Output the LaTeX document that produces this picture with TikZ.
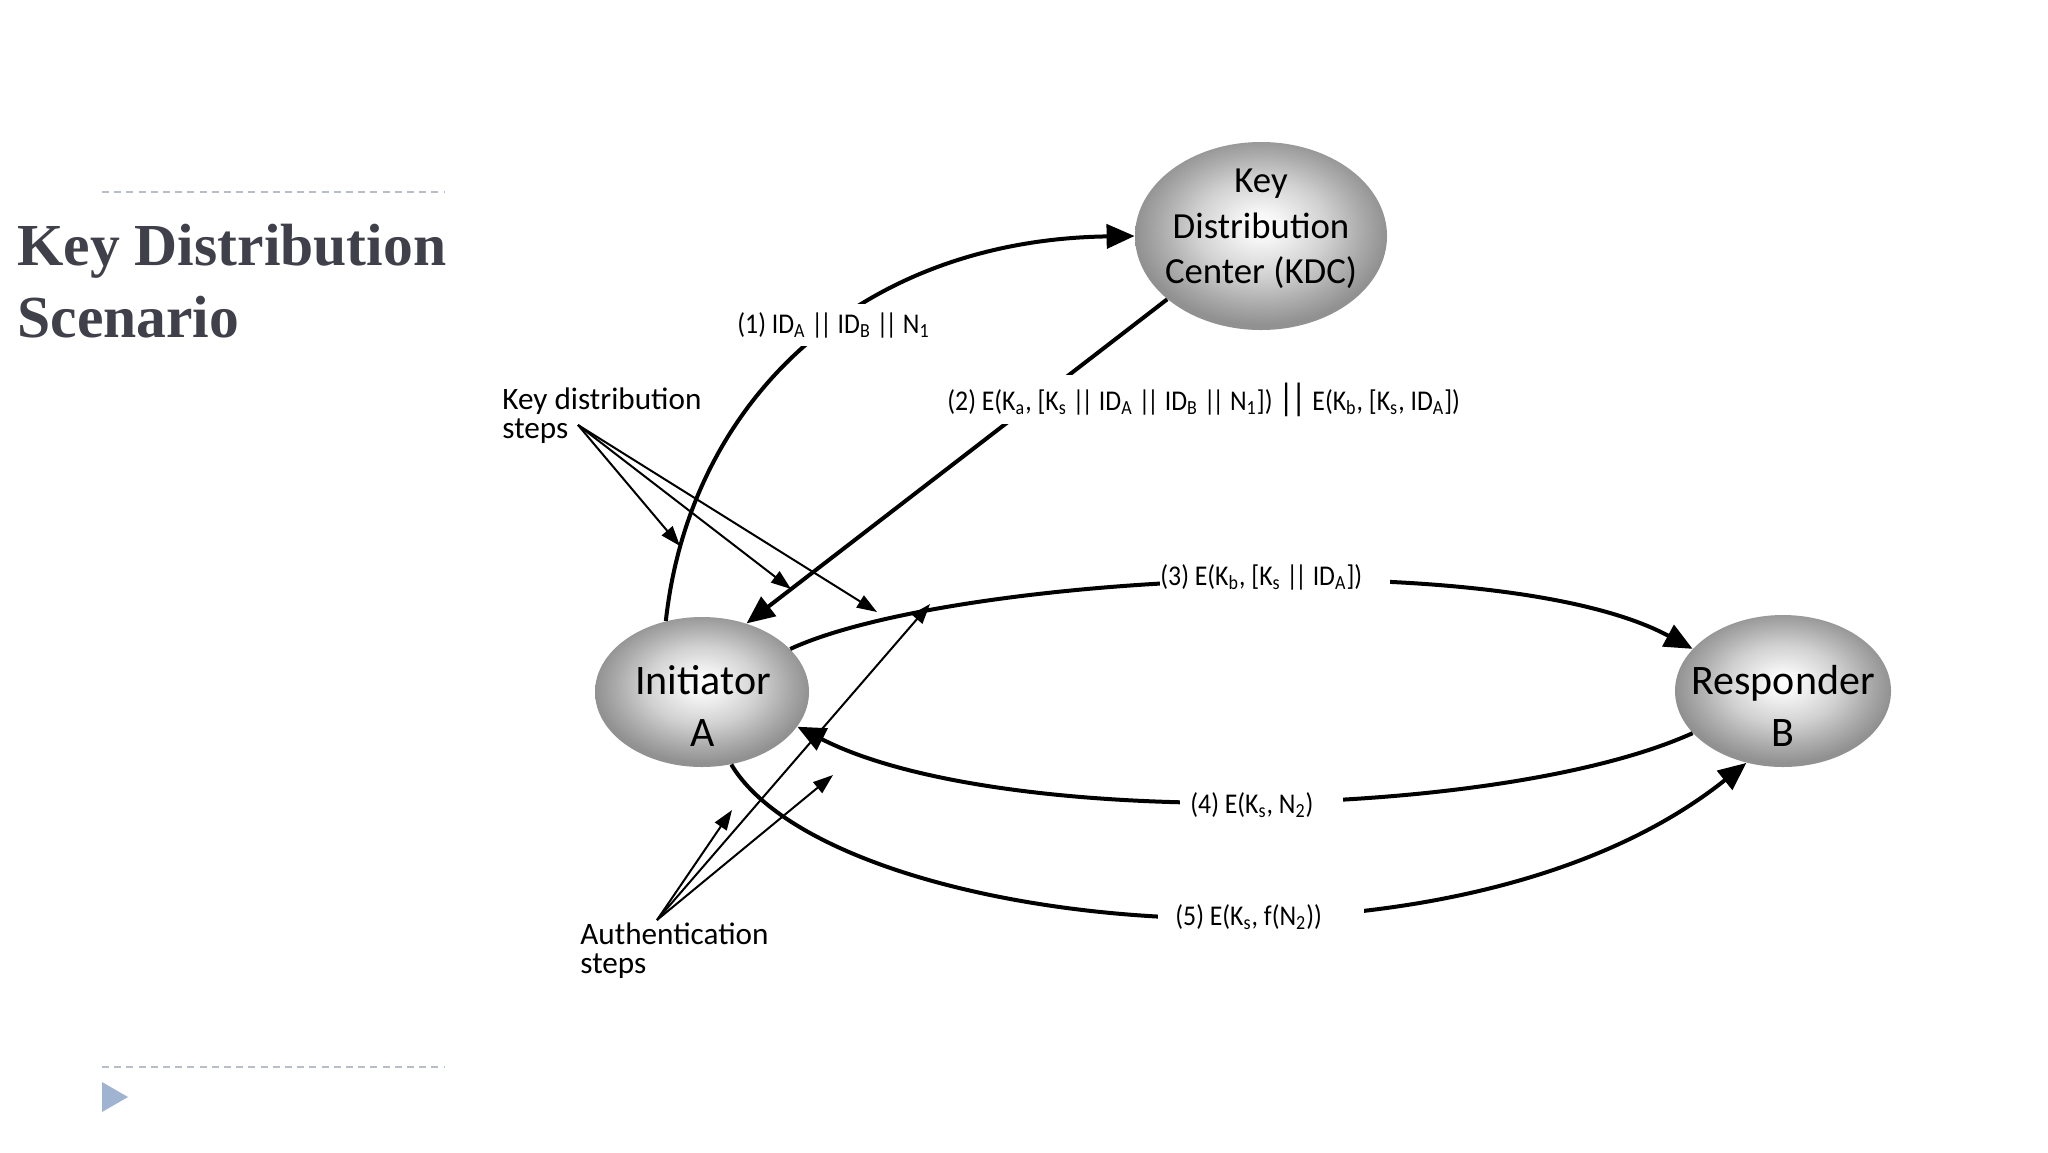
\documentclass[tikz,border=0pt]{standalone}
\usepackage{fontspec}
\setmainfont{Carlito}
\newfontfamily\labfont[FakeStretch=0.9]{Carlito}
\newfontfamily\titlefont{Liberation Serif}
\usetikzlibrary{arrows.meta,shapes.geometric}
\pgfdeclareradialshading{orb}{\pgfpoint{0bp}{3bp}}{color(0bp)=(white); color(4bp)=(white!96!black); color(13bp)=(white!82!black); color(20bp)=(white!67!black); color(25bp)=(white!57!black); color(50bp)=(white!57!black)}
\definecolor{titlegray}{RGB}{64,64,74}
\definecolor{dashgray}{RGB}{184,190,200}
\definecolor{bulletblue}{RGB}{160,180,210}
\newcommand{\sub}[1]{\textsubscript{#1}}
\newcommand{\dbar}{|\kern-1.6pt|}
\begin{document}
\begin{tikzpicture}[x=0.5pt,y=-0.5pt,
  orb/.style={ellipse, shading=orb, draw=none, inner sep=0},
  actor/.style={font=\fontsize{21}{26}\selectfont, align=center, inner sep=0},
  kdctext/.style={font=\fontsize{18.4}{22.8}\selectfont, align=center, inner sep=0},
  msg/.style={line width=2pt, -{Triangle[length=14pt,width=12pt]}},
  ptr/.style={line width=1pt, -{Triangle[length=10pt,width=7pt]}},
  lab/.style={font=\labfont\fontsize{14.3}{16}\selectfont, fill=white, inner xsep=0pt, inner ysep=4pt, anchor=base west},
  note/.style={font=\fontsize{15.6}{14.5}\selectfont, align=left, inner sep=0, anchor=north west},
  titletext/.style={font=\titlefont\bfseries\fontsize{29.8}{36}\selectfont, text=titlegray, anchor=base west, inner sep=0},
  rule/.style={dashgray, line width=0.8pt, dash pattern=on 3.5pt off 2.6pt}
]
\useasboundingbox (0,0) rectangle (2048,1152);
\fill[white] (0,0) rectangle (2048,1152);

% slide decoration
\draw[rule] (102,192) -- (445,192);
\draw[rule] (102,1067) -- (445,1067);
\fill[bulletblue] (102,1082) -- (102,1112) -- (128,1097) -- cycle;
\node[titletext] (t1) at (17,265) {Key Distribution};
\node[titletext] (t2) at (17,337) {Scenario};

% parties
\node[orb, minimum width=126pt, minimum height=94pt] (kdc) at (1261,236) {};
\node[orb, minimum width=107pt, minimum height=75pt] (ini) at (702,692) {};
\node[orb, minimum width=108pt, minimum height=76pt] (res) at (1783,691) {};
\node[kdctext] (kdcl) at (1261,229) {Key\\Distribution\\Center (KDC)};
\node[actor] (inil) at (703,706) {Initiator\\A};
\node[actor] (resl) at (1783,706) {Responder\\B};

% messages
\draw[msg] (ini.117) .. controls (690,400) and (860,240) .. (kdc.west);
\draw[msg] (kdc.214) -- (ini.57);
\draw[msg] (ini.26) .. controls (950,575) and (1500,545) .. (res.155);
\draw[msg] (res.205) .. controls (1500,820) and (1000,830) .. (ini.-20);
\draw[msg] (ini.-68) .. controls (830,930) and (1450,1000) .. (res.243);

% message labels
\node[lab] (l1) at (737,333) {(1) ID\sub{A} \dbar{} ID\sub{B} \dbar{} N\sub{1}};
\node[lab] (l2) at (947,410) {(2) E(K\sub{a}, [K\sub{s} \dbar{} ID\sub{A} \dbar{} ID\sub{B} \dbar{} N\sub{1}]) {\fontsize{19}{19}\selectfont\dbar} E(K\sub{b}, [K\sub{s}, ID\sub{A}])};
\node[lab] (l3) at (1160,585) {(3) E(K\sub{b}, [K\sub{s} \dbar{} ID\sub{A}])\hspace*{14pt}};
\node[lab] (l4) at (1180,813) {\hspace*{5pt}(4) E(K\sub{s}, N\sub{2})\hspace*{15pt}};
\node[lab] (l5) at (1158,925) {\hspace*{8.5pt}(5) E(K\sub{s}, f(N\sub{2}))\hspace*{21pt}};

% annotations
\node[note] (kdn) at (502,387) {Key distribution\\steps};
\node[note] (aun) at (580,922) {Authentication\\steps};
\coordinate (kds) at (578,425);
\coordinate (k1) at (680,546);
\coordinate (k2) at (791,589);
\coordinate (k3) at (877,612);
\draw[ptr] (kds) -- (k1);
\draw[ptr] (kds) -- (k2);
\draw[ptr] (kds) -- (k3);
\coordinate (aus) at (657,920);
\coordinate (a1) at (732,810);
\coordinate (a2) at (930,604);
\coordinate (a3) at (833,775);
\draw[ptr] (aus) -- (a1);
\draw[ptr] (aus) -- (a2);
\draw[ptr] (aus) -- (a3);
\end{tikzpicture}
\end{document}
